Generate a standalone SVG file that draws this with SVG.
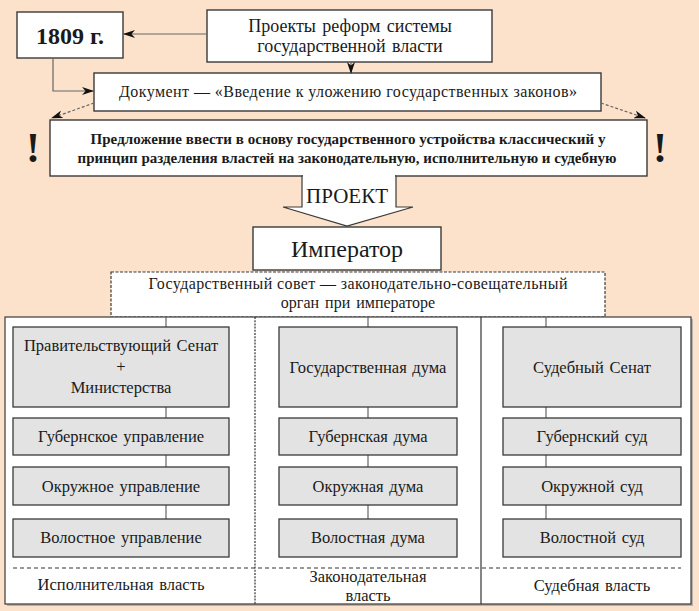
<svg xmlns="http://www.w3.org/2000/svg" width="699" height="611" viewBox="0 0 699 611">
<defs>
<style>
.t{font-family:'Liberation Serif','Tinos','Times New Roman','DejaVu Serif','Noto Serif',serif;fill:#1a1a1a;text-anchor:middle}
.box{fill:#ffffff;stroke:#3a3a3a;stroke-width:1.4}
.gbox{fill:#e3e3e3;stroke:#3a3a3a;stroke-width:1.3}
.ln{fill:none;stroke:#666;stroke-width:1.2}
.f16{font-size:16.5px;word-spacing:1.5px}
</style>
<marker id="ah" viewBox="0 0 12 8" refX="11" refY="4" markerWidth="12" markerHeight="8" markerUnits="userSpaceOnUse" orient="auto">
<path d="M0,0 L12,4 L0,8 L3.5,4 z" fill="#111"/>
</marker>
</defs>
<rect x="0" y="0" width="699" height="611" fill="#fce2ca"/>

<g id="n1809">
<rect class="box" x="17" y="12" width="106" height="46"/>
<text class="t" x="70" y="44" font-size="24" font-weight="bold">1809 г.</text>
</g>
<g id="projects">
<rect class="box" x="207" y="10" width="285" height="52"/>
<text class="t" x="350" y="32" font-size="18" word-spacing="2">Проекты реформ системы</text>
<text class="t" x="350" y="52" font-size="18" word-spacing="2">государственной власти</text>
</g>
<g id="document">
<rect class="box" x="94" y="73" width="507" height="38"/>
<text class="t" font-size="16" x="348" y="97" textLength="458" lengthAdjust="spacing">Документ — «Введение к уложению государственных законов»</text>
</g>
<g id="proposal">
<rect class="box" x="50" y="120" width="597" height="56"/>
<text class="t" x="348" y="144" font-size="15" font-weight="bold" textLength="515" lengthAdjust="spacing">Предложение ввести в основу государственного устройства классический у</text>
<text class="t" x="347" y="163" font-size="15" font-weight="bold" textLength="539" lengthAdjust="spacing">принцип разделения властей на законодательную, исполнительную и судебную</text>
<text class="t" x="33" y="162" font-size="42" font-weight="bold">!</text>
<text class="t" x="660" y="162" font-size="42" font-weight="bold">!</text>
</g>
<g id="project-arrow">
<polygon points="302,176 396,176 396,207 413,207 347,226 283,207 302,207" fill="#ffffff" stroke="#3a3a3a" stroke-width="1.2"/>
<rect x="303" y="175" width="92" height="3" fill="#ffffff"/>
<text class="t" x="347" y="203" font-size="21">ПРОЕКТ</text>
</g>
<g id="emperor">
<rect class="box" x="253" y="227" width="188" height="43"/>
<text class="t" x="347" y="257" font-size="24">Император</text>
</g>
<g id="council">
<rect x="111" y="272" width="494" height="45" fill="#ffffff" stroke="#3a3a3a" stroke-width="1.2" stroke-dasharray="3,1.5"/>
<text class="t" font-size="16" x="358" y="289" textLength="419" lengthAdjust="spacing">Государственный совет — законодательно-совещательный</text>
<text class="t" font-size="16" word-spacing="2" x="358" y="308">орган при императоре</text>
</g>

<g id="frame">
<rect x="7" y="319" width="686" height="287" fill="#b9b0a8"/>
<rect x="5" y="317" width="686" height="287" fill="#ffffff" stroke="#3a3a3a" stroke-width="1.2"/>
<line x1="255" y1="317" x2="255" y2="604" stroke="#333" stroke-width="1.2" stroke-dasharray="2,1.2"/>
<line x1="481" y1="317" x2="481" y2="604" stroke="#333" stroke-width="1.2"/>
<line x1="13" y1="568" x2="681" y2="568" stroke="#333" stroke-width="1.2" stroke-dasharray="4,3"/>
</g>

<g id="connectors">
<line class="ln" x1="207" y1="34" x2="124" y2="34" marker-end="url(#ah)"/>
<line class="ln" x1="351" y1="62" x2="351" y2="73" marker-end="url(#ah)"/>
<polyline class="ln" points="53,58 53,91 93,91" marker-end="url(#ah)"/>
<line class="ln" x1="94" y1="103" x2="52" y2="118" stroke-dasharray="3,2" marker-end="url(#ah)"/>
<line class="ln" x1="601" y1="103" x2="645" y2="118" stroke-dasharray="3,2" marker-end="url(#ah)"/>
<path class="ln" d="M166,317V327M166,407V418M166,455V467M166,505V519"/>
<path class="ln" d="M368,317V327M368,407V418M368,455V467M368,505V519"/>
<path class="ln" d="M546,317V327M546,407V418M546,455V467M546,505V519"/>
</g>

<g id="exec-col">
<rect class="gbox" x="13" y="327" width="216" height="80"/>
<text class="t f16" x="121" y="351">Правительствующий Сенат</text>
<text class="t f16" x="121" y="372">+</text>
<text class="t f16" x="121" y="393">Министерства</text>
<rect class="gbox" x="13" y="418" width="216" height="37"/>
<text class="t f16" x="121" y="442">Губернское управление</text>
<rect class="gbox" x="13" y="467" width="216" height="38"/>
<text class="t f16" x="121" y="492">Окружное управление</text>
<rect class="gbox" x="13" y="519" width="216" height="38"/>
<text class="t f16" x="121" y="543">Волостное управление</text>
<text class="t f16" x="121" y="590">Исполнительная власть</text>
</g>
<g id="leg-col">
<rect class="gbox" x="279" y="327" width="178" height="80"/>
<text class="t f16" x="368" y="373">Государственная дума</text>
<rect class="gbox" x="279" y="418" width="178" height="37"/>
<text class="t f16" x="368" y="442">Губернская дума</text>
<rect class="gbox" x="279" y="467" width="178" height="38"/>
<text class="t f16" x="368" y="492">Окружная дума</text>
<rect class="gbox" x="279" y="519" width="178" height="38"/>
<text class="t f16" x="368" y="543">Волостная дума</text>
<text class="t f16" x="368" y="582">Законодательная</text>
<text class="t f16" x="368" y="601">власть</text>
</g>
<g id="jud-col">
<rect class="gbox" x="503" y="327" width="178" height="80"/>
<text class="t f16" x="592" y="373">Судебный Сенат</text>
<rect class="gbox" x="503" y="418" width="178" height="37"/>
<text class="t f16" x="592" y="442">Губернский суд</text>
<rect class="gbox" x="503" y="467" width="178" height="38"/>
<text class="t f16" x="592" y="492">Окружной суд</text>
<rect class="gbox" x="503" y="519" width="178" height="38"/>
<text class="t f16" x="592" y="543">Волостной суд</text>
<text class="t f16" x="592" y="591">Судебная власть</text>
</g>
</svg>
